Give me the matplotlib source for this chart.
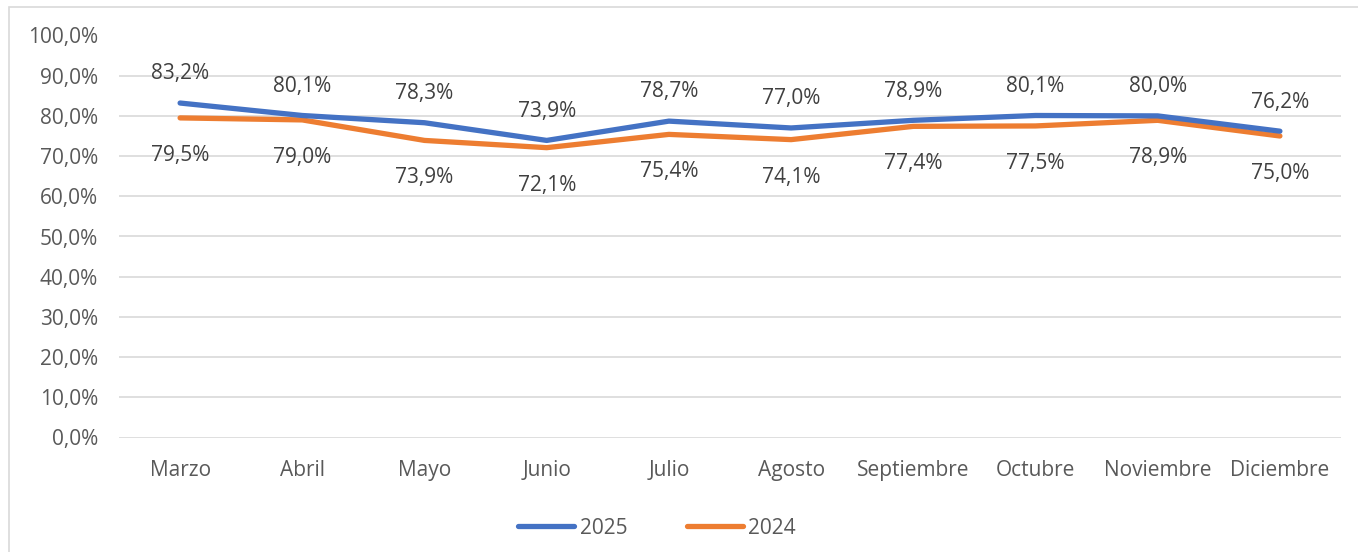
import matplotlib.pyplot as plt
from matplotlib.patches import Rectangle

meses = ["Marzo", "Abril", "Mayo", "Junio", "Julio", "Agosto",
         "Septiembre", "Octubre", "Noviembre", "Diciembre"]
serie_2025 = [83.2, 80.1, 78.3, 73.9, 78.7, 77.0, 78.9, 80.1, 80.0, 76.2]
serie_2024 = [79.5, 79.0, 73.9, 72.1, 75.4, 74.1, 77.4, 77.5, 78.9, 75.0]
y_ticks = [0, 10, 20, 30, 40, 50, 60, 70, 80, 90, 100]

azul = "#4472C4"
naranja = "#ED7D31"
gris_texto = "#595959"
gris_etiqueta = "#404040"
gris_grid = "#D9D9D9"

plt.rcParams['font.family'] = ['Open Sans', 'DejaVu Sans']

def fmt(v):
    return f"{v:.1f}%".replace(".", ",")

fig = plt.figure(figsize=(13.58, 5.52), dpi=100)
ax = fig.add_axes([119 / 1358, 1 - 437.5 / 552, 1222 / 1358, 402 / 552])

# marco del gráfico
fig.patches.append(Rectangle((9 / 1358, -0.05), 1.1, 1 - 7 / 552 + 0.05,
                             transform=fig.transFigure, fill=False,
                             edgecolor=gris_grid, linewidth=1.2))

x = list(range(len(meses)))
ax.plot(x, serie_2025, color=azul, linewidth=3.8, solid_capstyle='round',
        solid_joinstyle='round', label="2025", zorder=3)
ax.plot(x, serie_2024, color=naranja, linewidth=3.8, solid_capstyle='round',
        solid_joinstyle='round', label="2024", zorder=2)

for i in x:
    ax.annotate(fmt(serie_2025[i]), (i, serie_2025[i]), xytext=(0, 21),
                textcoords='offset points', ha='center', va='center',
                fontsize=15, color=gris_etiqueta)
    ax.annotate(fmt(serie_2024[i]), (i, serie_2024[i]), xytext=(0, -27),
                textcoords='offset points', ha='center', va='center',
                fontsize=15, color=gris_etiqueta)

ax.set_xlim(-0.5, len(meses) - 0.5)
ax.set_ylim(0, 100)
ax.set_yticks(y_ticks)
ax.set_yticklabels([fmt(v) for v in y_ticks])
ax.set_xticks(x)
ax.set_xticklabels(meses)
ax.tick_params(axis='y', length=0, pad=15, labelsize=15, labelcolor=gris_texto)
ax.tick_params(axis='x', length=0, pad=16, labelsize=15, labelcolor=gris_texto)
ax.grid(axis='y', color=gris_grid, linewidth=1.2)
ax.set_axisbelow(True)
for s in ax.spines.values():
    s.set_visible(False)

fig.legend(loc='center', bbox_to_anchor=(657 / 1358, 1 - 528 / 552), ncol=2,
           frameon=False, fontsize=15, labelcolor=gris_texto,
           handlelength=2.7, handletextpad=0.25, columnspacing=2.85)

fig.savefig("out.png", dpi=100)
